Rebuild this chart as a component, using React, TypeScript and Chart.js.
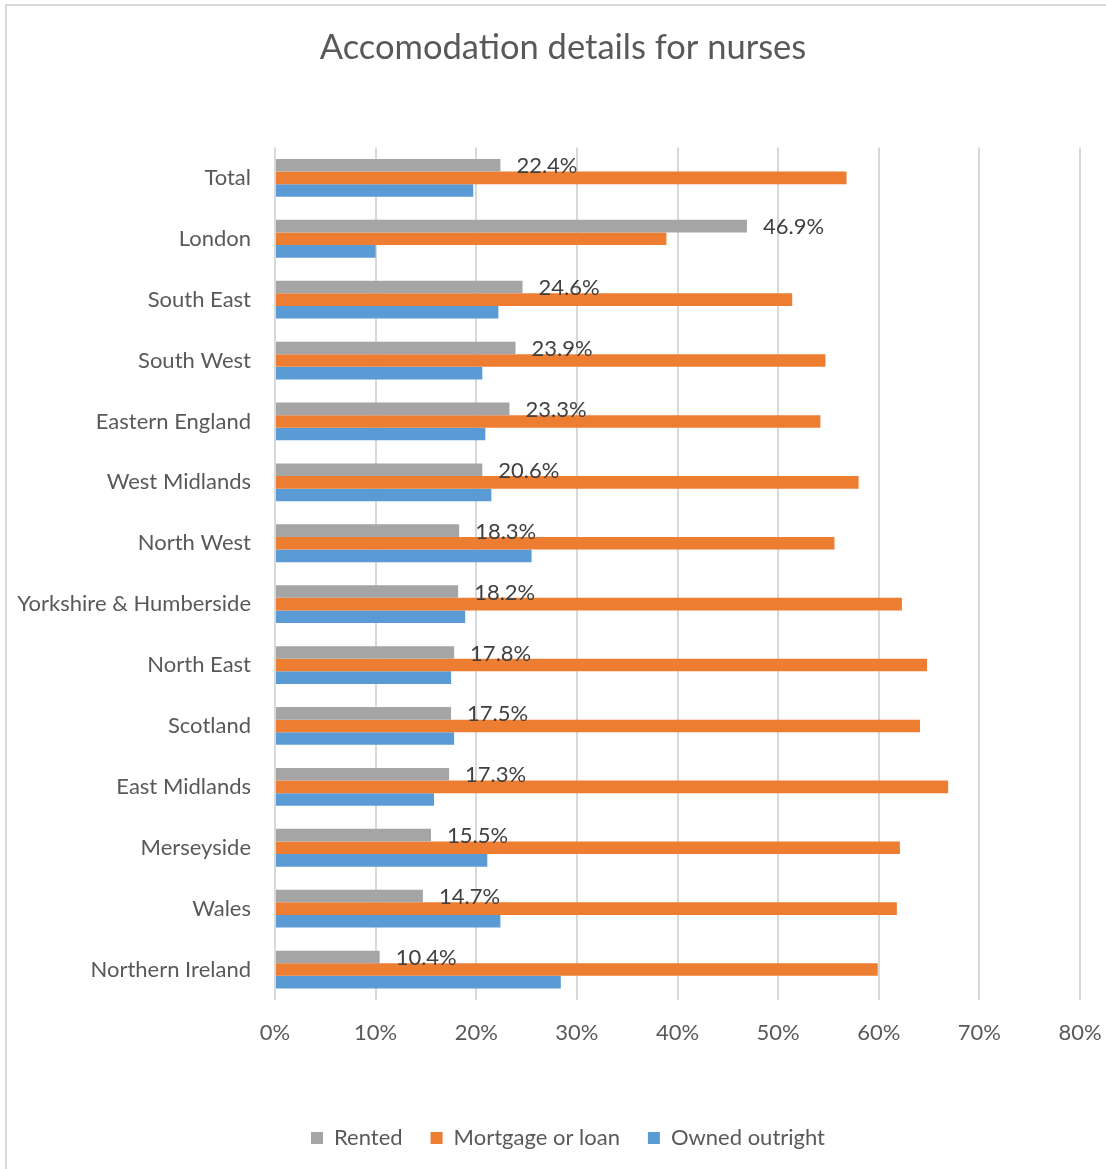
import React, { useEffect, useRef } from "react";
import { Chart, registerables } from "chart.js";

Chart.register(...registerables);

const categories = [
  "Total",
  "London",
  "South East",
  "South West",
  "Eastern England",
  "West Midlands",
  "North West",
  "Yorkshire & Humberside",
  "North East",
  "Scotland",
  "East Midlands",
  "Merseyside",
  "Wales",
  "Northern Ireland",
];

const rented = [22.4, 46.9, 24.6, 23.9, 23.3, 20.6, 18.3, 18.2, 17.8, 17.5, 17.3, 15.5, 14.7, 10.4];
const mortgage = [56.8, 38.9, 51.4, 54.7, 54.2, 58.0, 55.6, 62.3, 64.8, 64.1, 66.9, 62.1, 61.8, 59.9];
const owned = [19.7, 10.0, 22.2, 20.6, 20.9, 21.5, 25.5, 18.9, 17.5, 17.8, 15.8, 21.1, 22.4, 28.4];

const seriesNames = ["Rented", "Mortgage or loan", "Owned outright"];
const seriesColors = ["#A5A5A5", "#ED7D31", "#5B9BD5"];

const titleText = "Accomodation details for nurses";
const FONT = "Lato, 'Open Sans', sans-serif";

const PLOT_LEFT = 275;
const TITLE_CENTER = 563;
const LEGEND_CENTER = 568;

const frameAndLabels = {
  id: "frameAndLabels",
  afterLayout(chart: any) {
    const shift = (box: any, center: number) => {
      if (!box) return;
      const cur = (box.left + box.right) / 2;
      const d = center - cur;
      box.left += d;
      box.right += d;
    };
    shift(chart.titleBlock, TITLE_CENTER);
    shift(chart.legend, LEGEND_CENTER);
  },
  beforeDraw(chart: any) {
    const ctx = chart.ctx;
    ctx.save();
    ctx.fillStyle = "#ffffff";
    ctx.fillRect(0, 0, chart.width, chart.height);
    ctx.strokeStyle = "#d9d9d9";
    ctx.lineWidth = 2;
    ctx.beginPath();
    ctx.moveTo(6, chart.height);
    ctx.lineTo(6, 5);
    ctx.lineTo(chart.width, 5);
    ctx.stroke();
    ctx.restore();
  },
  afterDatasetsDraw(chart: any) {
    const ctx = chart.ctx;
    const meta = chart.getDatasetMeta(0);
    ctx.save();
    ctx.font = `22px ${FONT}`;
    ctx.fillStyle = "#404040";
    ctx.textAlign = "left";
    ctx.textBaseline = "middle";
    meta.data.forEach((el: any, i: number) => {
      const v = chart.data.datasets[0].data[i] as number;
      ctx.fillText(v.toFixed(1) + "%", el.x + 16, el.y + 1);
    });
    ctx.restore();
  },
};

export default function App() {
  const ref = useRef<HTMLCanvasElement>(null);
  useEffect(() => {
    if (!ref.current) return;
    const chart = new Chart(ref.current, {
      type: "bar",
      data: {
        labels: categories,
        datasets: [rented, mortgage, owned].map((d, i) => ({
          label: seriesNames[i],
          data: d,
          backgroundColor: seriesColors[i],
          borderWidth: 0,
          barPercentage: 1,
          categoryPercentage: 0.62,
        })),
      },
      options: {
        indexAxis: "y",
        responsive: false,
        animation: false,
        devicePixelRatio: 1,
        layout: { padding: { left: 10, right: 26, top: 10, bottom: 10 } },
        scales: {
          x: {
            min: 0,
            max: 80,
            ticks: {
              stepSize: 10,
              callback: (v: any) => v + "%",
              color: "#595959",
              font: { family: FONT, size: 22 },
              padding: 20,
              maxRotation: 0,
            },
            grid: { color: "#d9d9d9", lineWidth: 2, drawTicks: false },
            border: { display: false },
            afterFit: (s: any) => {
              s.height = 99;
              s.paddingLeft = 0;
              s.paddingRight = 0;
            },
          },
          y: {
            ticks: {
              color: "#595959",
              font: { family: FONT, size: 22 },
              padding: 24,
              autoSkip: false,
            },
            grid: { display: false, drawTicks: false },
            border: { display: false },
            afterFit: (s: any) => {
              s.width = PLOT_LEFT - 10;
              s.paddingTop = 0;
              s.paddingBottom = 0;
            },
          },
        },
        plugins: {
          title: {
            display: true,
            text: titleText,
            color: "#595959",
            font: { family: FONT, size: 34.5, weight: "normal" },
            padding: { top: 17, bottom: 79 },
          },
          legend: {
            position: "bottom",
            labels: {
              boxWidth: 12,
              boxHeight: 12,
              padding: 28,
              color: "#595959",
              font: { family: FONT, size: 22 },
            },
          },
          tooltip: { enabled: false },
        },
      },
      plugins: [frameAndLabels],
    });
    return () => chart.destroy();
  }, []);
  return (
    <div style={{ position: "absolute", left: 0, top: 0, width: 1106, height: 1169 }}>
      <canvas ref={ref} width={1106} height={1169} style={{ width: 1106, height: 1169 }} />
    </div>
  );
}
